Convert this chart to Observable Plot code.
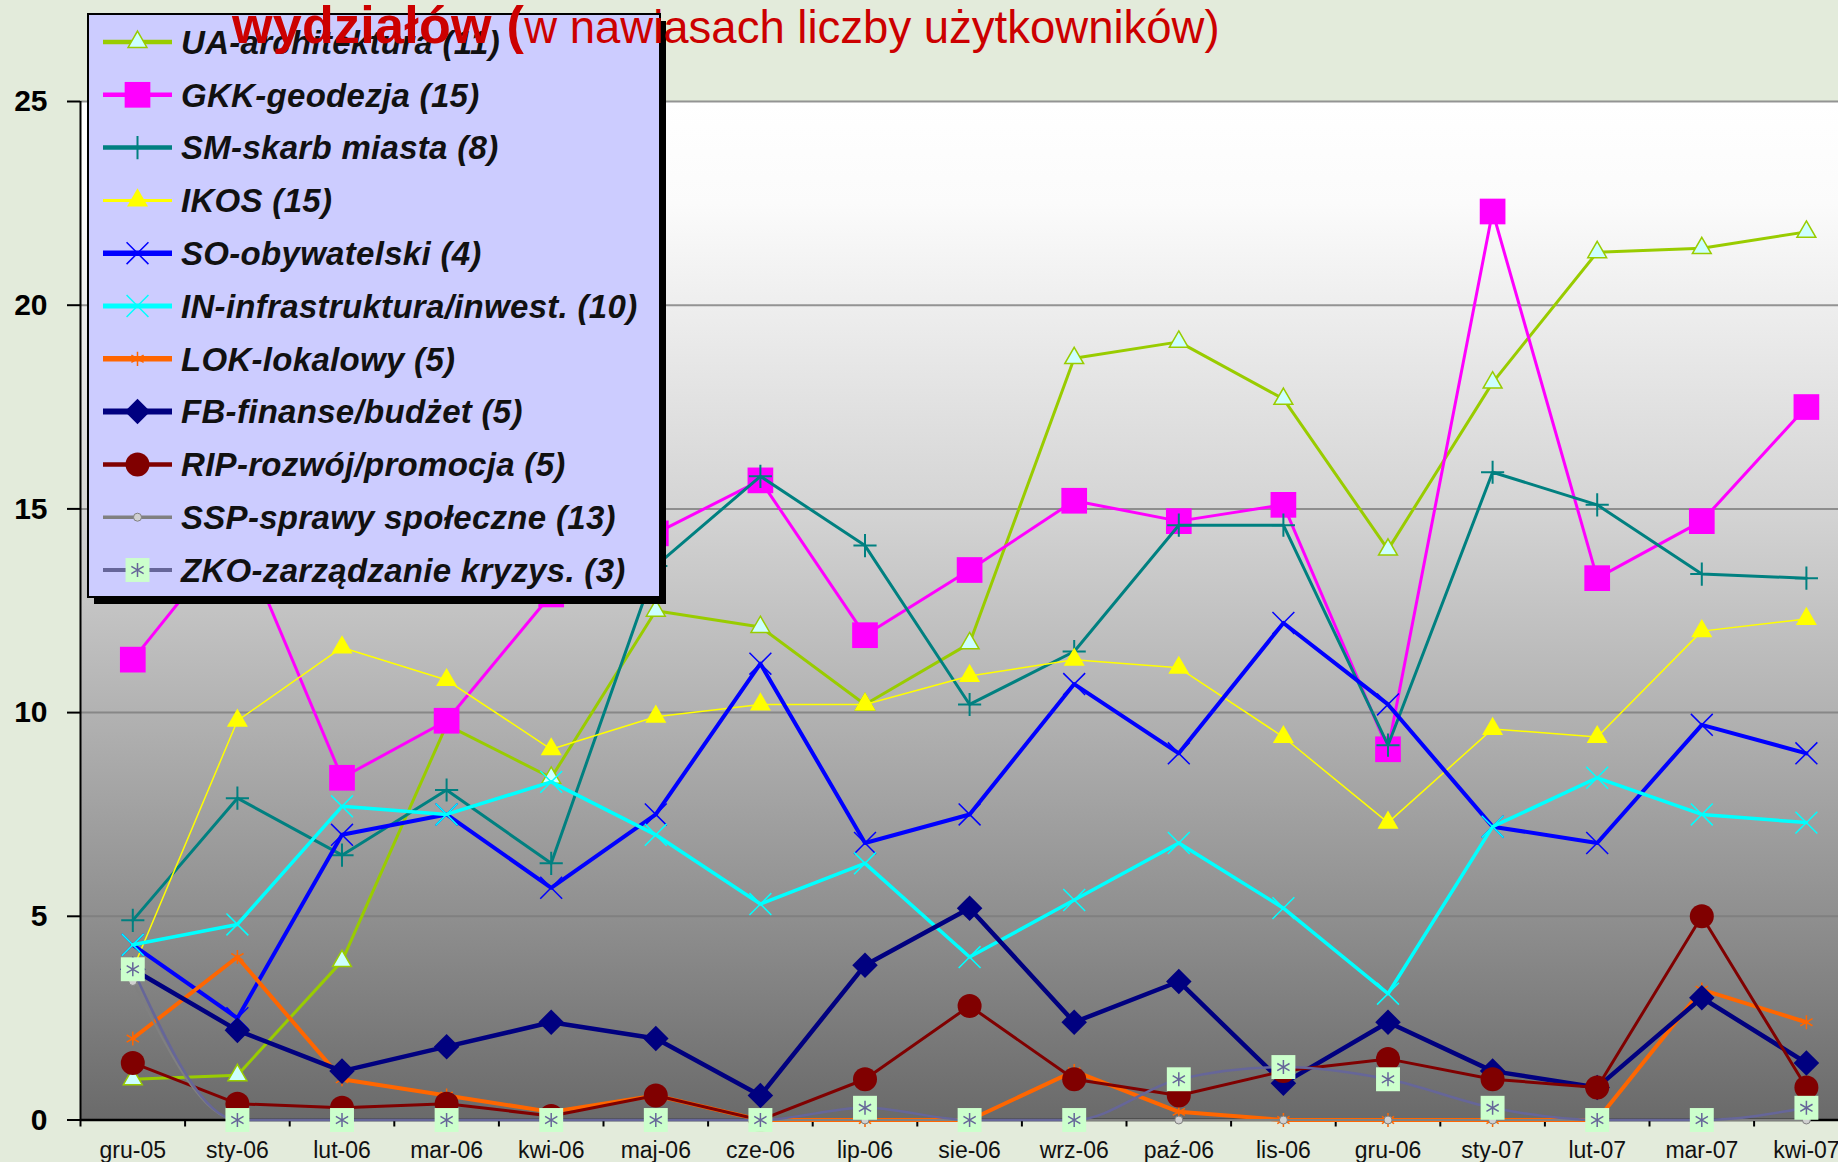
<!DOCTYPE html>
<html>
<head>
<meta charset="utf-8">
<script src="https://cdn.jsdelivr.net/npm/d3@7"></script>
<script src="https://cdn.jsdelivr.net/npm/@observablehq/plot@0.6"></script>
<style>
  html, body { margin: 0; padding: 0; background: #e3ebdb; overflow: hidden; width: 1838px; height: 1162px; }
  #wrap { position: relative; width: 1838px; height: 1162px; overflow: hidden; }
  #chart, #legend, #title { position: absolute; left: 0; top: 0; }
  #legend, #title { pointer-events: none; }
</style>
</head>
<body>
<div id="wrap">
  <div id="chart"></div>
  <svg id="legend" width="1838" height="1162"></svg>
  <svg id="title" width="1838" height="90"></svg>
</div>
<script>
// ---------- data ----------
const months = ["gru-05","sty-06","lut-06","mar-06","kwi-06","maj-06","cze-06","lip-06","sie-06","wrz-06","paź-06","lis-06","gru-06","sty-07","lut-07","mar-07","kwi-07"];

const UA  = [1.0, 1.1, 3.9, 9.7, 8.4, 12.5, 12.1, 10.2, 11.7, 18.7, 19.1, 17.7, 14.0, 18.1, 21.3, 21.4, 21.8];
const GKK = [11.3, 14.5, 8.4, 9.8, 12.9, 14.4, 15.7, 11.9, 13.5, 15.2, 14.7, 15.1, 9.1, 22.3, 13.3, 14.7, 17.5];
const SM  = [4.9, 7.9, 6.5, 8.1, 6.3, 13.6, 15.8, 14.1, 10.2, 11.5, 14.6, 14.6, 9.2, 15.9, 15.1, 13.4, 13.3];
const IKOS = [3.7, 9.8, 11.6, 10.8, 9.1, 9.9, 10.2, 10.2, 10.9, 11.3, 11.1, 9.4, 7.3, 9.6, 9.4, 12.0, 12.3];
const SO  = [4.3, 2.5, 7.0, 7.5, 5.7, 7.5, 11.2, 6.8, 7.5, 10.7, 9.0, 12.2, 10.2, 7.2, 6.8, 9.7, 9.0];
const IN  = [4.3, 4.8, 7.7, 7.5, 8.3, 7.0, 5.3, 6.3, 4.0, 5.4, 6.8, 5.2, 3.1, 7.2, 8.4, 7.5, 7.3];
const LOK = [2.0, 4.0, 1.0, 0.6, 0.2, 0.6, 0, 0, 0, 1.2, 0.2, 0, 0, 0, 0, 3.2, 2.4];
const FB  = [3.7, 2.2, 1.2, 1.8, 2.4, 2.0, 0.6, 3.8, 5.2, 2.4, 3.4, 0.9, 2.4, 1.2, 0.8, 3.0, 1.4];
const RIP = [1.4, 0.4, 0.3, 0.4, 0.1, 0.6, 0, 1.0, 2.8, 1.0, 0.6, 1.2, 1.5, 1.0, 0.8, 5.0, 0.8];
const SSP = [3.4, 0, 0, 0, 0, 0, 0, 0, 0, 0, 0, 0, 0, 0, 0, 0, 0];
const ZKO = [3.7, 0, 0, 0, 0, 0, 0, 0.3, 0, 0, 1.0, 1.3, 1.0, 0.3, 0, 0, 0.3];

const seriesNames = ["UA-architektura (11)", "GKK-geodezja (15)", "SM-skarb miasta (8)", "IKOS (15)", "SO-obywatelski (4)", "IN-infrastruktura/inwest. (10)", "LOK-lokalowy (5)", "FB-finanse/budżet (5)", "RIP-rozwój/promocja (5)", "SSP-sprawy społeczne (13)", "ZKO-zarządzanie kryzys. (3)"];
const seriesValues = [UA, GKK, SM, IKOS, SO, IN, LOK, FB, RIP, SSP, ZKO];
const yTicks = [0, 5, 10, 15, 20, 25];

// ---------- styles ----------
const lineColors = ["#99cc00","#ff00ff","#008080","#ffff00","#0000ff","#00ffff","#ff6600","#000080","#800000","#808080","#666699"];
const lineWidths = [3, 3, 3, 1.5, 4, 3.5, 4, 4.5, 3, 2, 2.5];
const lineCurves = ["linear","linear","linear","linear","linear","linear","linear","linear","linear","monotone-x","monotone-x"];
const markerDefs = [
  [{symbol: "triangle", r: 7, fill: "#ccffff", stroke: "#99cc00", sw: 1.5}],
  [{symbol: "square", r: 14.5, fill: "#ff00ff"}],
  [{symbol: "plus", r: 7.5, stroke: "#008080", sw: 2}],
  [{symbol: "triangle", r: 7.8, fill: "#ffff00"}],
  [{symbol: "times", r: 10, stroke: "#0000ff", sw: 1.5}],
  [{symbol: "times", r: 10, stroke: "#00ffff", sw: 1.5}],
  [{symbol: "asterisk", r: 6.7, stroke: "#ff6600", sw: 1.5}],
  [{symbol: "diamond2", r: 11.5, fill: "#000080"}],
  [{symbol: "circle", r: 12, fill: "#800000"}],
  [{symbol: "circle", r: 4, fill: "#d0d0d0", stroke: "#808080", sw: 1}],
  [{symbol: "square", r: 13.5, fill: "#ccffcc"}, {symbol: "asterisk", r: 6.7, stroke: "#666699", sw: 1.5}]
];
const FONT = "'Liberation Sans', Arial, Helvetica, sans-serif";

// ---------- chart ----------
const seriesMarks = seriesValues.flatMap((vals, s) => {
  const data = months.map((m, i) => ({i, m, v: vals[i]}));
  const out = [Plot.line(data, {x: "i", y: "v", stroke: lineColors[s], strokeWidth: lineWidths[s], curve: lineCurves[s], strokeLinejoin: "round"})];
  for (const d of markerDefs[s]) {
    out.push(Plot.dot(data, {x: "i", y: "v", symbol: d.symbol, r: d.r, fill: d.fill || "none", stroke: d.stroke || "none", strokeWidth: d.sw || 1}));
  }
  return out;
});

const svg = Plot.plot({
  width: 1838,
  height: 1162,
  marginLeft: 80,
  marginRight: 0,
  marginTop: 101,
  marginBottom: 42.5,
  style: {fontFamily: FONT, background: "transparent", overflow: "hidden"},
  x: {type: "linear", domain: [-0.5, months.length - 0.5], range: [80, 80 + 104.6 * months.length]},
  y: {domain: [0, 25], label: null},
  marks: [
    Plot.frame({fill: "url(#plotbg)", stroke: null}),
    Plot.ruleY(yTicks.filter(d => d > 0), {stroke: "#7c7c7c", strokeWidth: 2, strokeOpacity: 0.8}),
    Plot.axisY({ticks: yTicks, tickSize: 13, tickPadding: 20, fontSize: 30, fontWeight: "bold", strokeWidth: 2, label: null, tickFormat: d3.format("d"), fill: "#000"}),
    Plot.axisX({ticks: d3.range(months.length), tickFormat: i => months[i], tickSize: 0, tickPadding: 22, fontSize: 23, label: null, fill: "#111"}),
    Plot.axisX({ticks: d3.range(-0.5, months.length, 1), tickFormat: () => "", tickSize: 7, strokeWidth: 2, label: null}),
    Plot.ruleX([-0.5], {stroke: "#000", strokeWidth: 2}),
    Plot.ruleY([0], {stroke: "#000", strokeWidth: 2.5}),
    ...seriesMarks
  ]
});

const grad = d3.select(svg).insert("defs", ":first-child")
  .append("linearGradient").attr("id", "plotbg").attr("x1", 0).attr("y1", 0).attr("x2", 0).attr("y2", 1);
[[0, "#ffffff"], [0.1, "#fbfbfb"], [0.4, "#d4d4d4"], [0.6, "#b2b2b2"], [0.8, "#8f8f8f"], [1, "#6a6a6a"]]
  .forEach(([o, c]) => grad.append("stop").attr("offset", o).attr("stop-color", c));

document.getElementById("chart").appendChild(svg);

// ---------- legend ----------
const symbolTypes = {
  triangle: d3.symbolTriangle, square: d3.symbolSquare, plus: d3.symbolPlus,
  times: d3.symbolTimes || d3.symbolX, asterisk: d3.symbolAsterisk,
  diamond2: d3.symbolDiamond2, circle: d3.symbolCircle
};
const lg = d3.select("#legend");
const box = {x: 88, y: 14, w: 572, h: 583, row0: 42, step: 52.8, lx1: 103, lx2: 172, mx: 137.5, tx: 181};
lg.append("rect").attr("x", box.x + 6).attr("y", box.y + 7).attr("width", box.w).attr("height", box.h).attr("fill", "#000");
lg.append("rect").attr("x", box.x).attr("y", box.y).attr("width", box.w).attr("height", box.h)
  .attr("fill", "#ccccff").attr("stroke", "#000").attr("stroke-width", 2);
seriesNames.forEach((name, s) => {
  const y = box.row0 + s * box.step;
  const g = lg.append("g");
  g.append("line").attr("x1", box.lx1).attr("x2", box.lx2).attr("y1", y).attr("y2", y)
    .attr("stroke", lineColors[s]).attr("stroke-width", lineWidths[s] + 1.5);
  for (const d of markerDefs[s]) {
    g.append("path").attr("transform", `translate(${box.mx},${y})`)
      .attr("d", d3.symbol(symbolTypes[d.symbol], Math.PI * d.r * d.r)())
      .attr("fill", d.fill || "none").attr("stroke", d.stroke || "none").attr("stroke-width", d.sw || 1);
  }
  g.append("text").attr("x", box.tx).attr("y", y).attr("dy", "0.36em")
    .attr("font-family", FONT).attr("font-size", 33).attr("font-weight", "bold").attr("font-style", "italic")
    .attr("letter-spacing", 0.3).attr("fill", "#111").text(name);
});

// ---------- title ----------
const tt = d3.select("#title").append("text").attr("x", 232).attr("y", 43)
  .attr("font-family", FONT).attr("fill", "#cc0000");
tt.append("tspan").attr("font-weight", "bold").attr("font-size", 52).attr("letter-spacing", 0.3).text("wydziałów (");
tt.append("tspan").attr("font-size", 45.5).text("w nawiasach liczby użytkowników)");
</script>
</body>
</html>
